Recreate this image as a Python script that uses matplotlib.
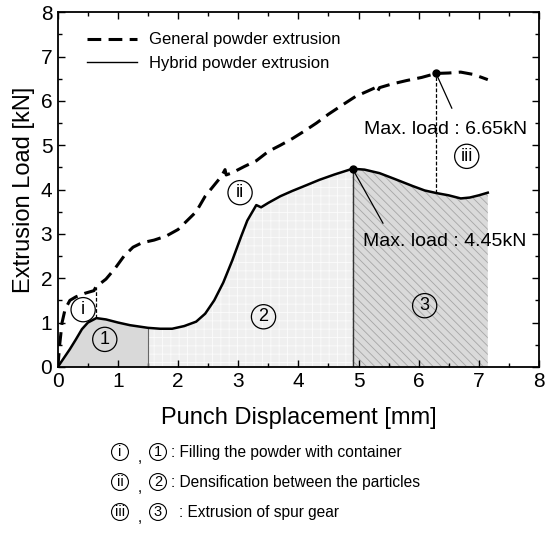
import matplotlib
matplotlib.use("Agg")
import matplotlib.pyplot as plt
import numpy as np
from matplotlib.lines import Line2D

plt.rcParams['font.family'] = ['Liberation Sans', 'DejaVu Sans']
plt.rcParams['hatch.linewidth'] = 0.6

# ---- data ----
hyb_x = [0.0, 0.1, 0.2, 0.3, 0.4, 0.5, 0.64, 0.8, 1.0, 1.2, 1.5, 1.7, 1.9, 2.1, 2.3,
         2.45, 2.6, 2.75, 2.9, 3.05, 3.15, 3.3, 3.38, 3.5, 3.7, 3.9, 4.1, 4.35, 4.6,
         4.9, 5.1, 5.35, 5.6, 5.9, 6.1, 6.3, 6.5, 6.7, 6.85, 7.0, 7.15]
hyb_y = [0.0, 0.2, 0.4, 0.62, 0.85, 1.0, 1.1, 1.07, 1.0, 0.94, 0.88, 0.86, 0.86, 0.92,
         1.02, 1.2, 1.5, 1.9, 2.4, 2.95, 3.3, 3.65, 3.6, 3.7, 3.85, 3.97, 4.08, 4.22,
         4.34, 4.47, 4.45, 4.37, 4.24, 4.08, 3.98, 3.92, 3.87, 3.8, 3.82, 3.87, 3.93]

gen_x = [0.0, 0.03, 0.07, 0.12, 0.2, 0.3, 0.45, 0.6, 0.63, 0.8, 0.95, 1.1, 1.25, 1.4,
         1.6, 1.8, 2.0, 2.15, 2.3, 2.45, 2.6, 2.72, 2.78, 2.8, 2.9, 3.1, 3.3, 3.5, 3.7,
         3.9, 4.1, 4.3, 4.5, 4.7, 4.95, 5.15, 5.28, 5.31, 5.35, 5.55, 5.8, 6.05, 6.29,
         6.5, 6.7, 6.9, 7.05, 7.15]
gen_y = [0.0, 0.5, 1.0, 1.3, 1.5, 1.58, 1.66, 1.72, 1.8, 1.98, 2.22, 2.5, 2.7, 2.8,
         2.86, 2.95, 3.1, 3.3, 3.5, 3.85, 4.1, 4.3, 4.45, 4.33, 4.38, 4.52, 4.65, 4.86,
         5.0, 5.15, 5.32, 5.5, 5.7, 5.88, 6.1, 6.22, 6.3, 6.2, 6.3, 6.38, 6.46, 6.53,
         6.62, 6.63, 6.65, 6.6, 6.53, 6.48]

stage_bounds = [0.0, 1.5, 4.9, 7.15]
stage_faces = ['#d9d9d9', '#efefef', '#dadada']
stage_hatch = [None, '++', '\\\\\\\\']
stage_hatch_col = ['#d9d9d9', '#fbfbfb', '#a6a6a6']

hyb_max = (4.9, 4.47)
gen_max = (6.29, 6.62)
stage1_x = 0.64

tick_vals = [0, 1, 2, 3, 4, 5, 6, 7, 8]

fig = plt.figure(figsize=(5.46, 5.34), dpi=100)
ax = fig.add_axes([0.106, 0.313, 0.881, 0.664])

hx = np.array(hyb_x)
hy = np.array(hyb_y)
for i in range(3):
    lo, hi = stage_bounds[i], stage_bounds[i + 1]
    xs = np.linspace(lo, hi, 200)
    ys = np.interp(xs, hx, hy)
    ax.fill_between(xs, 0, ys, facecolor=stage_faces[i], edgecolor=stage_hatch_col[i],
                    hatch=stage_hatch[i], linewidth=0, zorder=1)

# region boundaries
ax.plot([1.5, 1.5], [0, np.interp(1.5, hx, hy)], color='#666666', lw=0.8, zorder=2)
ax.plot([hyb_max[0], hyb_max[0]], [0, hyb_max[1]], color='#333333', lw=1.0, zorder=2)

ax.plot(gen_x, gen_y, color='black', lw=2.2, dashes=(4.5, 2.4), zorder=3)
ax.plot(hyb_x, hyb_y, color='black', lw=1.8, zorder=3)

# dashed markers
ax.plot([stage1_x, stage1_x], [np.interp(stage1_x, hx, hy), np.interp(stage1_x, gen_x, gen_y)],
        color='black', lw=0.9, ls=(0, (3, 1.5)), zorder=3)
ax.plot([gen_max[0], gen_max[0]], [np.interp(gen_max[0], hx, hy), gen_max[1]],
        color='black', lw=0.9, ls=(0, (3, 1.5)), zorder=3)

# max points and annotations
ax.plot(*hyb_max, 'o', color='black', ms=5, zorder=4)
ax.plot(*gen_max, 'o', color='black', ms=5, zorder=4)
ax.annotate('Max. load : 4.45kN', xy=hyb_max, xytext=(5.08, 2.82), fontsize=14,
            va='center', ha='left',
            arrowprops=dict(arrowstyle='-', color='black', lw=0.9,
                            shrinkA=6, shrinkB=0, relpos=(0.155, 1.0)), zorder=5)
ax.annotate('Max. load : 6.65kN', xy=gen_max, xytext=(5.09, 5.35), fontsize=14,
            va='center', ha='left',
            arrowprops=dict(arrowstyle='-', color='black', lw=0.9,
                            shrinkA=8, shrinkB=0, relpos=(0.575, 1.0)), zorder=5)

circ = dict(boxstyle='circle,pad=0.2', fc='none', ec='black', lw=0.9)
for txt, x, y in [('i', 0.42, 1.29), ('ii', 3.03, 3.93), ('iii', 6.8, 4.75),
                  ('1', 0.78, 0.62), ('2', 3.42, 1.13), ('3', 6.1, 1.38)]:
    ax.text(x, y, txt, fontsize=13, ha='center', va='center', bbox=circ, zorder=5)

ax.set_xlim(0, 8)
ax.set_ylim(0, 8)
ax.set_xticks(tick_vals)
ax.set_yticks(tick_vals)
ax.set_xticks(np.arange(0.5, 8, 1), minor=True)
ax.set_yticks(np.arange(0.5, 8, 1), minor=True)
ax.tick_params(which='both', direction='in', top=True, right=True, width=1.0)
ax.tick_params(which='major', length=5, labelsize=15, pad=4)
ax.tick_params(which='minor', length=3)
for s in ax.spines.values():
    s.set_linewidth(1.3)
ax.set_xlabel('Punch Displacement [mm]', fontsize=17, labelpad=11)
ax.set_ylabel('Extrusion Load [kN]', fontsize=17, labelpad=4)

handles = [Line2D([], [], color='black', lw=2.2, dashes=(4.5, 2.4)),
           Line2D([], [], color='black', lw=1.0)]
ax.legend(handles, ['General powder extrusion', 'Hybrid powder extrusion'],
          loc='upper left', bbox_to_anchor=(0.06, 0.943), frameon=False, fontsize=12,
          handlelength=3.0, handletextpad=0.75, labelspacing=0.5, borderpad=0,
          borderaxespad=0)

# bottom key
small = dict(boxstyle='circle,pad=0.1', fc='none', ec='black', lw=0.8)
W, H = 546.0, 534.0
key_rows = [('i', '1', ': Filling the powder with container'),
            ('ii', '2', ': Densification between the particles'),
            ('iii', '3', ': Extrusion of spur gear')]
key_y = [452, 482, 512]
for (a, b, desc), ypx in zip(key_rows, key_y):
    yf = 1 - ypx / H
    fig.text(120 / W, yf, a, fontsize=10.5, ha='center', va='center', bbox=small)
    fig.text(140 / W, yf - 0.012, ',', fontsize=11, ha='center', va='center')
    fig.text(158 / W, yf, b, fontsize=10.5, ha='center', va='center', bbox=small)
    fig.text((171 if b != '3' else 179) / W, yf, desc, fontsize=11.2, ha='left', va='center')

fig.savefig('out.png', dpi=100)
